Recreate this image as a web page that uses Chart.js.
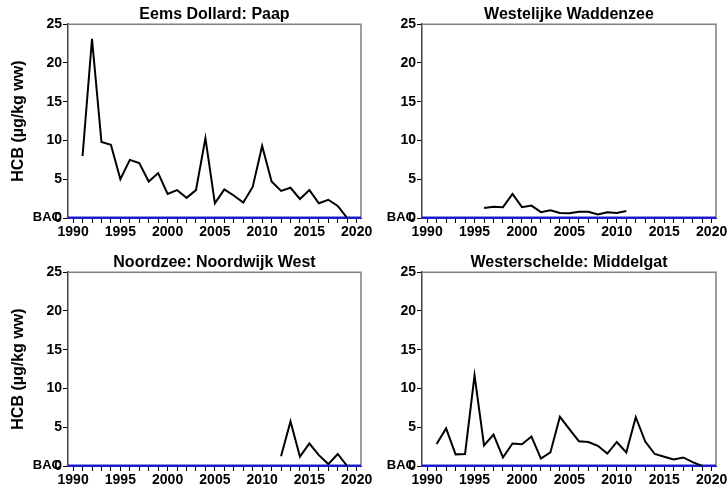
<!DOCTYPE html>
<html>
<head>
<meta charset="utf-8">
<script src="https://cdn.jsdelivr.net/npm/chart.js@4.4.1/dist/chart.umd.min.js"></script>
<style>
  body { margin: 0; background: #fff; }
  #wrap { position: relative; width: 727px; height: 493px; overflow: hidden; }
  canvas { position: absolute; }
</style>
</head>
<body>
<div id="wrap">
  <canvas id="eems" width="380" height="246" style="left:0;top:0"></canvas>
  <canvas id="wadden" width="363" height="246" style="left:364px;top:0"></canvas>
  <canvas id="noordzee" width="380" height="246" style="left:0;top:248px"></canvas>
  <canvas id="schelde" width="363" height="246" style="left:364px;top:248px"></canvas>
</div>
<script>
// HCB in fish, yearly values per station
const eemsYears = [1991, 1992, 1993, 1994, 1995, 1996, 1997, 1998, 1999, 2000, 2001, 2002, 2003, 2004, 2005,
  2006, 2007, 2008, 2009, 2010, 2011, 2012, 2013, 2014, 2015, 2016, 2017, 2018, 2019];
const eemsValues = [8.0, 23.1, 9.8, 9.45, 5.0, 7.5, 7.1, 4.7, 5.8, 3.1, 3.6, 2.6, 3.6, 10.3, 1.9,
  3.7, 2.9, 2.0, 4.0, 9.3, 4.7, 3.5, 3.9, 2.45, 3.6, 1.9, 2.35, 1.55, 0.0];

const waddenYears = [1996, 1997, 1998, 1999, 2000, 2001, 2002, 2003, 2004, 2005, 2006, 2007, 2008, 2009, 2010, 2011];
const waddenValues = [1.3, 1.45, 1.4, 3.1, 1.4, 1.6, 0.75, 1.0, 0.65, 0.6, 0.8, 0.8, 0.45, 0.75, 0.65, 0.9];

const noordzeeYears = [2012, 2013, 2014, 2015, 2016, 2017, 2018, 2019];
const noordzeeValues = [1.25, 5.75, 1.2, 2.9, 1.4, 0.25, 1.55, 0.0];

const scheldeYears = [1991, 1992, 1993, 1994, 1995, 1996, 1997, 1998, 1999, 2000, 2001, 2002, 2003, 2004, 2005,
  2006, 2007, 2008, 2009, 2010, 2011, 2012, 2013, 2014, 2015, 2016, 2017, 2018, 2019];
const scheldeValues = [2.85, 4.85, 1.5, 1.55, 11.7, 2.65, 4.05, 1.1, 2.9, 2.8, 3.8, 0.95, 1.75, 6.35, 4.75,
  3.2, 3.1, 2.6, 1.6, 3.1, 1.75, 6.3, 3.15, 1.55, 1.2, 0.85, 1.1, 0.5, 0.0];

const bacLevel = 0.08;
const xLabelYears = [1990, 1995, 2000, 2005, 2010, 2015, 2020];
const yLabelValues = [0, 5, 10, 15, 20, 25];
const yMinorStep = 2.5;
const xMin = 1989.46, xMax = 2020.46;
const yTitle = 'HCB (µg/kg ww)';

const FONT = "'Liberation Sans', Arial, sans-serif";
const BLUE = '#1c1cd0';

// minor ticks: every year on x, every 2.5 on y
const xTickValues = [];
for (let y = xLabelYears[0]; y <= xLabelYears[xLabelYears.length - 1]; y++) xTickValues.push(y);
const yTickValues = [];
for (let v = 0; v <= yLabelValues[yLabelValues.length - 1]; v += yMinorStep) yTickValues.push(v);

// grey frame on top and right of the plot
const framePlugin = {
  id: 'frame',
  beforeDatasetsDraw(chart) {
    const { ctx, chartArea: a } = chart;
    ctx.save();
    ctx.strokeStyle = '#808080';
    ctx.lineWidth = 1.5;
    ctx.beginPath();
    ctx.moveTo(a.left, a.top);
    ctx.lineTo(a.right, a.top);
    ctx.lineTo(a.right, a.bottom);
    ctx.stroke();
    ctx.restore();
  }
};

// "BAC" text next to the blue reference line
const bacLabel = {
  id: 'bacLabel',
  afterDraw(chart) {
    const { ctx, chartArea: a, scales } = chart;
    ctx.save();
    ctx.font = 'bold 13px ' + FONT;
    ctx.fillStyle = '#000';
    ctx.textAlign = 'right';
    ctx.textBaseline = 'middle';
    ctx.fillText('BAC', a.left - 7, scales.y.getPixelForValue(bacLevel));
    ctx.restore();
  }
};

function makeChart(id, title, years, values, yWidth, padRight, showTitle) {
  const tickFont = { family: FONT, size: 14, weight: 'bold' };
  return new Chart(document.getElementById(id), {
    type: 'line',
    data: {
      datasets: [
        {
          data: years.map((x, i) => ({ x, y: values[i] })),
          borderColor: '#000', borderWidth: 2, pointRadius: 0, tension: 0
        },
        {
          data: [{ x: xMin, y: bacLevel }, { x: xMax, y: bacLevel }],
          borderColor: BLUE, borderWidth: 2, pointRadius: 0, tension: 0
        }
      ]
    },
    options: {
      responsive: false,
      animation: false,
      layout: { padding: { left: 0, right: padRight, top: 0, bottom: 0 } },
      plugins: {
        legend: { display: false },
        tooltip: { enabled: false },
        title: {
          display: true, text: title, color: '#000', fullSize: false,
          font: { family: FONT, size: 16, weight: 'bold' },
          padding: { top: 5, bottom: 0 }
        }
      },
      scales: {
        x: {
          type: 'linear', min: xMin, max: xMax,
          afterBuildTicks: s => { s.ticks = xTickValues.map(value => ({ value })); },
          afterFit: s => { s.height = 28; s.paddingLeft = 0; s.paddingRight = 0; },
          ticks: {
            autoSkip: false, maxRotation: 0, padding: 1, color: '#000', font: tickFont,
            callback: v => xLabelYears.includes(v) ? String(v) : ''
          },
          grid: { drawOnChartArea: false, drawTicks: true, tickLength: 5, tickColor: '#000' },
          border: { color: BLUE, width: 1 }
        },
        y: {
          min: 0, max: 25,
          afterBuildTicks: s => { s.ticks = yTickValues.map(value => ({ value })); },
          afterFit: s => { s.width = yWidth; s.paddingTop = 0; s.paddingBottom = 0; },
          ticks: {
            padding: 1, color: '#000', font: tickFont,
            callback: v => yLabelValues.includes(v) ? String(v) : ''
          },
          grid: { drawOnChartArea: false, drawTicks: true, tickLength: 5, tickColor: '#000' },
          border: { color: '#444', width: 1.5 },
          title: {
            display: showTitle, text: yTitle, color: '#000',
            font: { family: FONT, size: 16, weight: 'bold' },
            padding: { top: 9, bottom: 0 }
          }
        }
      }
    },
    plugins: [framePlugin, bacLabel]
  });
}

makeChart('eems', 'Eems Dollard: Paap', eemsYears, eemsValues, 68, 19, true);
makeChart('wadden', 'Westelijke Waddenzee', waddenYears, waddenValues, 58, 11, false);
makeChart('noordzee', 'Noordzee: Noordwijk West', noordzeeYears, noordzeeValues, 68, 19, true);
makeChart('schelde', 'Westerschelde: Middelgat', scheldeYears, scheldeValues, 58, 11, false);
</script>
</body>
</html>
